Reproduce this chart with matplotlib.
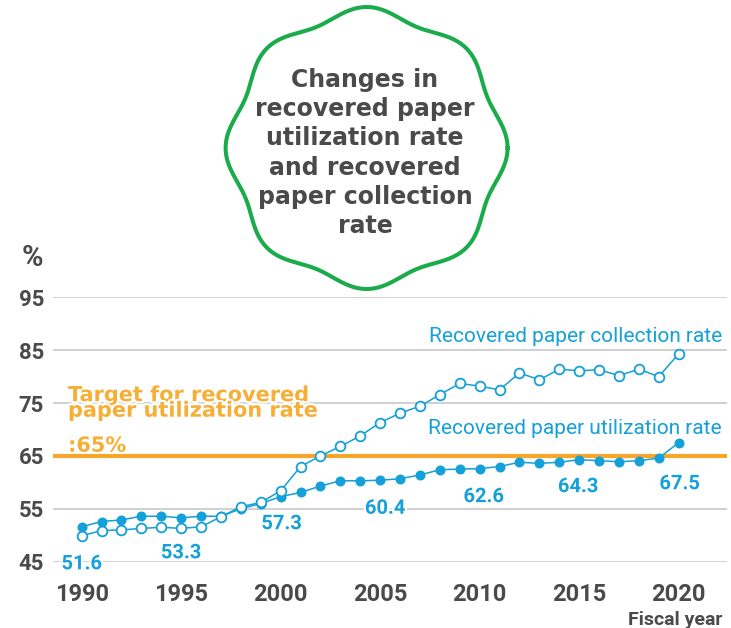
import numpy as np
import matplotlib.pyplot as plt
import matplotlib.patheffects as pe

plt.rcParams["font.family"] = ["Roboto", "DejaVu Sans"]

years = list(range(1990, 2021))
utilization = [51.6, 52.6, 52.9, 53.6, 53.6, 53.3, 53.6, 53.6, 55.0, 56.0,
               57.3, 58.1, 59.3, 60.3, 60.3, 60.4, 60.7, 61.4, 62.4, 62.5,
               62.6, 63.0, 63.8, 63.6, 63.8, 64.3, 64.1, 63.9, 64.1, 64.6,
               67.5]
collection = [49.9, 50.9, 51.0, 51.3, 51.5, 51.3, 51.6, 53.5, 55.4, 56.2,
              58.4, 63.0, 65.0, 66.8, 68.8, 71.3, 73.1, 74.4, 76.6, 78.7,
              78.2, 77.5, 80.7, 79.4, 81.4, 81.1, 81.3, 80.2, 81.4, 80.0,
              84.3]
label_years = [1990, 1995, 2000, 2005, 2010, 2015, 2020]
label_texts = ["51.6", "53.3", "57.3", "60.4", "62.6", "64.3", "67.5"]
target = 65
y_ticks = [45, 55, 65, 75, 85, 95]
x_ticks = [1990, 1995, 2000, 2005, 2010, 2015, 2020]
title_lines = ["Changes in", "recovered paper", "utilization rate",
               "and recovered", "paper collection", "rate"]

BLUE = "#14a0d8"
ORANGE = "#f6a72a"
ORANGE_TXT = "#f7ae35"
GRAY = "#4a4a4a"
GREEN = "#1aab4a"
W, H = 731, 628

fig = plt.figure(figsize=(W / 100, H / 100), dpi=100)
ax = fig.add_axes([53 / W, (H - 561.7) / H, 674 / W, 264.4 / H])
ax.set_xlim(1988.56, 2022.43)
ax.set_ylim(45, 95)
for s in ax.spines.values():
    s.set_visible(False)
ax.set_yticks(y_ticks)
ax.set_xticks(x_ticks)
ax.tick_params(length=0)
ax.tick_params(axis="y", pad=6.5, labelsize=16, labelcolor=GRAY)
ax.tick_params(axis="x", pad=15, labelsize=17, labelcolor=GRAY)
for lab in ax.get_xticklabels() + ax.get_yticklabels():
    lab.set_fontweight("bold")
ax.grid(axis="y", color="#c8c8c8", lw=1.2, zorder=0)
ax.set_axisbelow(True)

ax.axhline(target, color=ORANGE, lw=3, zorder=2)
ax.plot(years, utilization, color=BLUE, lw=1.1, marker="o", ms=7.2,
        mfc=BLUE, mew=0, zorder=3)
ax.plot(years, collection, color=BLUE, lw=1.1, marker="o", ms=7,
        mfc="white", mec=BLUE, mew=1.3, zorder=4)

# value labels below the utilization line
offsets = [(0, -37), (0, -35), (1, -27), (5, -28), (4, -28), (-1, -27), (1, -41)]
stroke = [pe.withStroke(linewidth=3, foreground="white")]
for yr, txt, (dx, dy) in zip(label_years, label_texts, offsets):
    val = utilization[years.index(yr)]
    ax.annotate(txt, (yr, val), xytext=(dx, dy), textcoords="offset pixels",
                ha="center", va="center", fontsize=14.5, fontweight="bold",
                color=BLUE, zorder=6, path_effects=stroke)

# overlay in pixel coordinates
ov = fig.add_axes([0, 0, 1, 1])
ov.set_xlim(0, W)
ov.set_ylim(H, 0)
ov.axis("off")

theta = np.linspace(0, 2 * np.pi, 721)
r = 136 + 5 * np.cos(8 * theta)
ov.plot(366.6 + r * np.cos(theta), 148 - r * np.sin(theta), color=GREEN, lw=2.9)
for i, line in enumerate(title_lines):
    ov.text(365, 86.7 + i * 29.3, line, ha="center", va="baseline",
            fontsize=17, fontweight="bold", color=GRAY, family="DejaVu Sans")

ov.text(32, 258, "%", ha="center", va="center", fontsize=21,
        fontweight="bold", color=GRAY)
ov.text(722, 625, "Fiscal year", ha="right", va="baseline", fontsize=14,
        fontweight="bold", color=GRAY)

ov.text(722, 341.7, "Recovered paper collection rate", ha="right",
        va="baseline", fontsize=15, color=BLUE)
ov.text(722, 434, "Recovered paper utilization rate", ha="right",
        va="baseline", fontsize=15, color=BLUE)

owhite = [pe.withStroke(linewidth=3, foreground="white")]
ov.text(68, 416.7, "Target for recovered\npaper utilization rate", ha="left",
        va="baseline", fontsize=15, fontweight="bold", color=ORANGE_TXT,
        family="DejaVu Sans", linespacing=0.72, path_effects=owhite)
ov.text(68, 451.7, ":65%", ha="left", va="baseline", fontsize=15,
        fontweight="bold", color=ORANGE_TXT, family="DejaVu Sans",
        path_effects=owhite)

fig.savefig("out.png", dpi=100)
